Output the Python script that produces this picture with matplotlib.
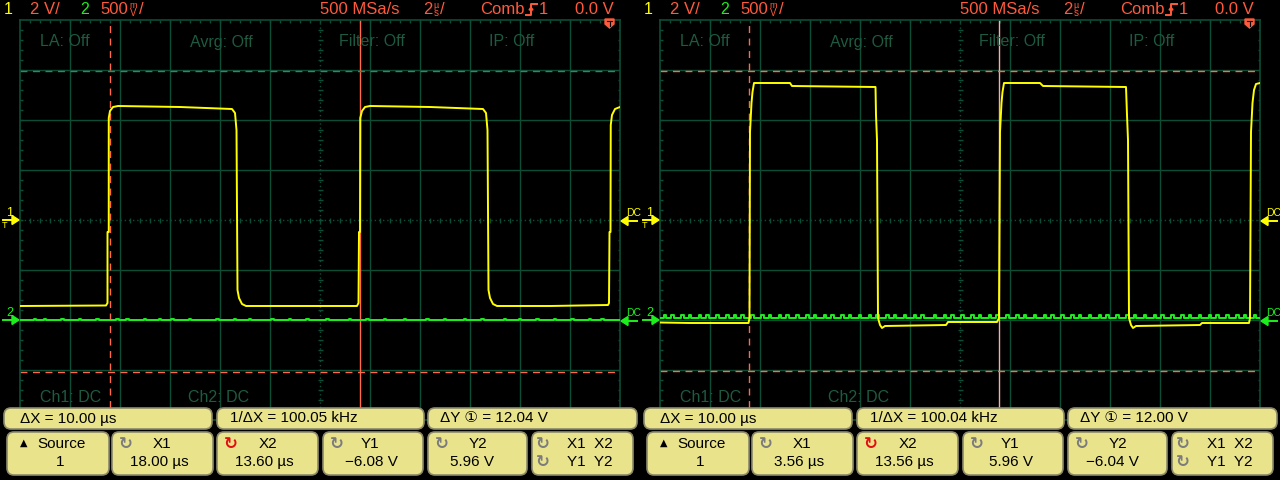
import numpy as np
import matplotlib
matplotlib.use('Agg')
import matplotlib.pyplot as plt
from matplotlib.patches import FancyBboxPatch, Polygon
from matplotlib.collections import LineCollection

plt.rcParams['font.family'] = ['Liberation Sans', 'DejaVu Sans', 'Noto Sans CJK SC']

# ---- scope settings ----
T_DIV = 2.0          # us / div
CH1_VDIV = 2.0       # V / div
CH2_VDIV = 0.5       # V / div
CH1_OFFSET = 0.0     # ground marker, divisions from centre
CH2_OFFSET = -2.0

# ---- left capture: channel 1 (yellow) breakpoints, time in us, volts ----
left_ch1_t = [0.00, 3.44, 3.50, 3.50, 3.55, 3.55, 3.60, 3.72, 3.92, 6.40, 8.48, 8.60, 8.66,
              8.70, 8.76, 8.88, 9.04, 11.20, 13.48, 13.54, 13.56, 13.60, 13.61, 13.68, 13.80,
              14.00, 16.40, 18.52, 18.64, 18.70, 18.74, 18.80, 18.92, 19.08, 21.20, 23.52,
              23.56, 23.58, 23.62, 23.63, 23.68, 23.80, 24.00]
left_ch1_v = [-3.44, -3.42, -3.32, -0.48, -0.48, 4.08, 4.36, 4.52, 4.56, 4.52, 4.44, 4.28, 3.60,
              -2.80, -3.12, -3.36, -3.44, -3.44, -3.44, -3.32, -0.48, -0.48, 4.08, 4.36, 4.52,
              4.56, 4.52, 4.44, 4.28, 3.60, -2.80, -3.12, -3.36, -3.44, -3.44, -3.40,
              -3.32, -0.48, -0.48, 3.80, 4.20, 4.44, 4.52]
left_ch2_level = 0.0
left_ch2_spikes = [0.6, 1.0, 1.7, 2.4, 3.1, 3.9, 4.3, 5.0, 5.6, 6.1, 6.8, 7.9, 8.6, 9.2, 10.1,
                   10.8, 11.5, 12.3, 13.2, 13.9, 14.6, 15.4, 16.3, 17.0, 17.8, 18.5, 19.4,
                   20.0, 20.7, 21.4, 22.1, 22.8, 23.3]

# ---- right capture ----
right_ch1_t = [0.00, 1.20, 3.54, 3.58, 3.60, 3.66, 3.70, 3.76, 5.20, 5.28, 8.62, 8.64, 8.68,
               8.72, 8.80, 8.88, 9.00, 11.44, 11.52, 13.48, 13.56, 13.60, 13.66, 13.70, 13.76,
               15.20, 15.32, 18.64, 18.68, 18.72, 18.76, 18.84, 18.92, 19.04, 21.60, 21.68,
               23.56, 23.60, 23.64, 23.70, 23.76, 23.84, 24.00]
right_ch1_v = [-4.10, -4.12, -4.12, -3.92, 3.52, 4.68, 5.12, 5.48, 5.48, 5.36, 5.32, 4.20, 3.20,
               -3.92, -4.20, -4.32, -4.24, -4.20, -4.08, -4.08, -3.92, 3.52, 4.68, 5.12, 5.48,
               5.48, 5.36, 5.32, 4.20, 3.20, -3.92, -4.20, -4.32, -4.24, -4.20, -4.12,
               -4.12, -3.92, 3.52, 4.68, 5.20, 5.44, 5.48]
right_ch2_level = 0.02
right_ch2_spikes = [0.2, 0.5, 0.9, 1.2, 1.6, 1.9, 2.3, 2.7, 3.0, 3.3, 3.7, 4.1, 4.4, 4.8, 5.1,
                    5.5, 5.9, 6.2, 6.6, 6.9, 7.3, 7.6, 8.0, 8.4, 8.7, 9.1, 9.4, 9.8, 10.2,
                    10.5, 11.0, 11.4, 11.7, 12.1, 12.5, 12.8, 13.2, 13.5, 13.9, 14.3, 14.6,
                    15.0, 15.4, 15.7, 16.1, 16.5, 16.8, 17.2, 17.6, 17.9, 18.3, 18.7, 19.0,
                    19.4, 19.8, 20.1, 20.5, 20.9, 21.2, 21.6, 22.0, 22.3, 22.7, 23.1, 23.4, 23.8]

# ---- cursors ----
left_cursor_x = [3.60, 13.60]
left_cursor_y = [-6.08, 5.96]
right_cursor_x = [3.56, 13.56]
right_cursor_y = [5.96, -6.04]

# ---- readouts ----
left_dx, left_inv_dx, left_dy = '10.00 µs', '100.05 kHz', '12.04 V'
right_dx, right_inv_dx, right_dy = '10.00 µs', '100.04 kHz', '12.00 V'
knob_names = ['X1', 'X2', 'Y1', 'Y2']
left_knob_values = ['18.00 µs', '13.60 µs', '\u22126.08 V', '5.96 V']
right_knob_values = ['3.56 µs', '13.56 µs', '5.96 V', '\u22126.04 V']

W, H = 1280, 480
BG = 'black'
GRID = '#0c4d36'
GTXT = '#1d5a40'
YEL = '#ffff00'
GRN = '#1cf01c'
RED = '#ff6a4a'
HRED = '#ff5a3c'
BOX = '#e9e48c'
BOXEDGE = '#8c8a6a'
HFONT = ['Liberation Sans', 'DejaVu Sans']

fig = plt.figure(figsize=(W / 100, H / 100), dpi=100, facecolor=BG)


def spike_trace(spikes, base, h, w=0.05):
    t = [0.0]
    v = [base]
    for s in spikes:
        t += [s - w, s - w, s + w, s + w]
        v += [base, base + h, base + h, base]
    t.append(24.0)
    v.append(base)
    return np.array(t), np.array(v)


def draw_panel(ox, ch1_t, ch1_v, ch2_level, ch2_spikes, spike_h, cx, cy, y2_color, x2_color):
    ax = fig.add_axes([(ox + 20) / W, 60 / H, 600 / W, 400 / H])
    ax.set_facecolor(BG)
    ax.set_xlim(0, 24)
    ax.set_ylim(-4, 4)
    ax.set_xticks([])
    ax.set_yticks([])
    for s in ax.spines.values():
        s.set_color(GRID)
        s.set_linewidth(1.2)

    for i in range(1, 12):
        if i != 6:
            ax.axvline(i * T_DIV, color=GRID, lw=1.0)
    for j in range(-3, 4):
        if j != 0:
            ax.axhline(j, color=GRID, lw=1.0)
    ax.axvline(12, color=GRID, lw=1.0, ls=(0, (1, 2)))
    ax.axhline(0, color=GRID, lw=1.0, ls=(0, (1, 2)))

    segs = []
    for k in range(1, 60):
        x = k * 0.4
        segs.append([(x, -0.05), (x, 0.05)])
        segs.append([(x, 4), (x, 3.95)])
        segs.append([(x, -4), (x, -3.95)])
    for k in range(1, 40):
        y = -4 + k * 0.2
        segs.append([(11.9, y), (12.1, y)])
        segs.append([(0, y), (0.1, y)])
        segs.append([(24, y), (23.9, y)])
    ax.add_collection(LineCollection(segs, colors=GRID, linewidths=1.0))

    # cursors
    ax.axvline(cx[0], color=RED, lw=1.0, ls=(0, (5, 4)))
    ax.axvline(cx[1], color=x2_color, lw=1.0)
    ax.axhline(cy[0] / CH1_VDIV, color=RED, lw=1.0, ls=(0, (5, 4)))
    ax.axhline(cy[1] / CH1_VDIV, color=y2_color, lw=1.0, ls=(0, (5, 4)))

    # traces
    t2, v2 = spike_trace(ch2_spikes, ch2_level, spike_h)
    ax.plot(t2, v2 / CH2_VDIV + CH2_OFFSET, color=GRN, lw=1.4, zorder=5)
    ax.plot(np.array(ch1_t), np.array(ch1_v) / CH1_VDIV + CH1_OFFSET, color=YEL, lw=1.4,
            zorder=6)
    return ax


draw_panel(0, left_ch1_t, left_ch1_v, left_ch2_level, left_ch2_spikes, 0.015,
           left_cursor_x, left_cursor_y, '#2f8a5c', RED)
draw_panel(640, right_ch1_t, right_ch1_v, right_ch2_level, right_ch2_spikes, 0.03,
           right_cursor_x, right_cursor_y, RED, '#f2b0a4')

ov = fig.add_axes([0, 0, 1, 1])
ov.set_xlim(0, W)
ov.set_ylim(H, 0)
ov.axis('off')
ov.patch.set_alpha(0)


def box(x0, y0, w, h):
    ov.add_patch(FancyBboxPatch((x0, y0), w, h, boxstyle='round,pad=0,rounding_size=7',
                                facecolor=BOX, edgecolor=BOXEDGE, lw=1.2))


def knob(x, y, color):
    ov.text(x, y, '\u21bb', color=color, fontsize=12, ha='center', va='center',
            family=['DejaVu Sans'], fontweight='bold')


def overlay(ox, dx, inv_dx, dy, knob_values):
    # header
    hy = 10
    ov.text(ox + 8, hy, '1', color=YEL, fontsize=11.5, ha='center', va='center', family=HFONT)
    ov.text(ox + 30, hy, '2 V/', color=HRED, fontsize=12, ha='left', va='center', family=HFONT)
    ov.text(ox + 85, hy, '2', color=GRN, fontsize=11.5, ha='center', va='center', family=HFONT)
    ov.text(ox + 100, hy, '500', color=HRED, fontsize=12, ha='left', va='center', family=HFONT)
    ov.text(ox + 133, 5.5, 'm', color=HRED, fontsize=6.5, ha='center', va='center', family=HFONT)
    ov.text(ox + 133, 13, 'V', color=HRED, fontsize=7, ha='center', va='center', family=HFONT)
    ov.text(ox + 139, hy, '/', color=HRED, fontsize=12, ha='left', va='center', family=HFONT)
    ov.text(ox + 320, hy, '500 MSa/s', color=HRED, fontsize=12, ha='left', va='center',
            family=HFONT)
    ov.text(ox + 423, hy, '2', color=HRED, fontsize=12, ha='left', va='center', family=HFONT)
    ov.text(ox + 436, 5.5, 'µ', color=HRED, fontsize=6.5, ha='center', va='center', family=HFONT)
    ov.text(ox + 436, 13, 's', color=HRED, fontsize=7, ha='center', va='center', family=HFONT)
    ov.text(ox + 440, hy, '/', color=HRED, fontsize=12, ha='left', va='center', family=HFONT)
    ov.text(ox + 480, hy, 'Comb', color=HRED, fontsize=12, ha='left', va='center', family=HFONT)
    ov.plot([ox + 526, ox + 531, ox + 531, ox + 537], [15, 15, 4, 4], color=HRED, lw=1.4)
    ov.add_patch(Polygon([[ox + 529, 10], [ox + 533, 10], [ox + 531, 7]], color=HRED))
    ov.text(ox + 539, hy, '1', color=HRED, fontsize=12, ha='left', va='center', family=HFONT)
    ov.text(ox + 575, hy, '0.0 V', color=HRED, fontsize=12, ha='left', va='center',
            family=HFONT)

    # trigger position marker
    ov.add_patch(Polygon([[ox + 605, 19], [ox + 614, 19], [ox + 614, 24], [ox + 609.5, 28],
                          [ox + 605, 24]], color=HRED))
    ov.plot([ox + 607, ox + 612], [21, 21], color='black', lw=0.8)
    ov.plot([ox + 609.5, ox + 609.5], [21, 26], color='black', lw=0.8)

    # graticule labels
    for x, s in [(40, 'LA: Off'), (190, 'Avrg: Off'), (339, 'Filter: Off'), (489, 'IP: Off')]:
        ov.text(ox + x, 42, s, color=GTXT, fontsize=11.5, ha='left', va='center', family=HFONT)
    for x, s in [(40, 'Ch1: DC'), (188, 'Ch2: DC')]:
        ov.text(ox + x, 398, s, color=GTXT, fontsize=11.5, ha='left', va='center', family=HFONT)

    # ground markers
    for off, col, lab in [(CH1_OFFSET, YEL, '1'), (CH2_OFFSET, GRN, '2')]:
        y = 220 - off * 50
        ov.plot([ox + 3, ox + 13], [y, y], color=col, lw=1.4)
        ov.add_patch(Polygon([[ox + 12, y - 4.5], [ox + 19, y], [ox + 12, y + 4.5]], color=col))
        ov.text(ox + 10, y - 7, lab, color=col, fontsize=9, ha='center', va='center')
        ov.plot([ox + 627, ox + 637], [y + 1, y + 1], color=col, lw=1.4)
        ov.add_patch(Polygon([[ox + 628, y - 3.5], [ox + 621, y + 1], [ox + 628, y + 5.5]],
                             color=col))
        ov.text(ox + 626, y - 7, 'DC', color=col, fontsize=7.5, ha='left', va='center',
                family=HFONT)
    ov.text(ox + 5, 226, 'T', color=YEL, fontsize=6.5, ha='center', va='center')

    # readout boxes, row 1
    box(ox + 4, 408, 208, 21)
    box(ox + 217, 408, 207, 21)
    box(ox + 428, 408, 209, 21)
    ov.text(ox + 20, 418.5, '\u0394X = ' + dx, fontsize=11, ha='left', va='center')
    ov.text(ox + 230, 418.5, '1/\u0394X = ' + inv_dx, fontsize=11, ha='left', va='center')
    ov.text(ox + 440, 418.5, '\u0394Y \u2460 = ' + dy, fontsize=11, ha='left', va='center')

    # row 2
    lefts = [7, 112, 217, 323, 428, 532]
    rights = [109, 213, 318, 423, 527, 633]
    for l, r in zip(lefts, rights):
        box(ox + l, 432, r - l, 43)
    ov.text(ox + 24, 443, '\u25b2', fontsize=7, ha='center', va='center', family=['DejaVu Sans'])
    ov.text(ox + 62, 444, 'Source', fontsize=11, ha='center', va='center')
    ov.text(ox + 60, 462, '1', fontsize=11, ha='center', va='center')
    cnames = [162, 268, 370, 478]
    cvals = [159, 264, 371, 472]
    for k in range(4):
        l = lefts[k + 1]
        knob(ox + l + 14, 444, '#e01010' if k == 1 else '#7c7c7c')
        ov.text(ox + cnames[k], 444, knob_names[k], fontsize=11, ha='center', va='center')
        ov.text(ox + cvals[k], 462, knob_values[k], fontsize=11, ha='center', va='center')
    knob(ox + 543, 444, '#7c7c7c')
    knob(ox + 543, 462, '#7c7c7c')
    ov.text(ox + 590, 444, 'X1  X2', fontsize=11, ha='center', va='center')
    ov.text(ox + 590, 462, 'Y1  Y2', fontsize=11, ha='center', va='center')


overlay(0, left_dx, left_inv_dx, left_dy, left_knob_values)
overlay(640, right_dx, right_inv_dx, right_dy, right_knob_values)

fig.savefig('out.png', dpi=100, facecolor=BG)
